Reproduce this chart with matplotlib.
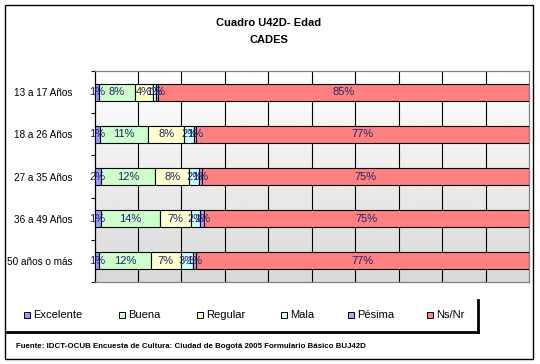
import numpy as np
import matplotlib
matplotlib.use('Agg')
import matplotlib.pyplot as plt
from matplotlib.patches import Rectangle
from matplotlib.lines import Line2D

plt.rcParams['font.family'] = ['Liberation Sans', 'DejaVu Sans']

categories = ['13 a 17 Años', '18 a 26 Años', '27 a 35 Años', '36 a 49 Años', '50 años o más']
series = ['Excelente', 'Buena', 'Regular', 'Mala', 'Pésima', 'Ns/Nr']
excelente = [1.0, 1.3, 1.6, 1.4, 1.1]
buena = [8.3, 11.1, 12.4, 13.6, 11.8]
regular = [4.1, 8.3, 7.8, 7.1, 7.0]
mala = [0.7, 2.1, 2.3, 2.1, 2.7]
pesima = [0.6, 0.6, 0.6, 1.1, 0.8]
nsnr = [85.3, 76.6, 75.3, 74.7, 76.6]
values = [excelente, buena, regular, mala, pesima, nsnr]
colors = ['#9999ff', '#ccffcc', '#ffffcc', '#ccffff', '#cc99ff', '#ff8080']

W, H = 540, 364
fig = plt.figure(figsize=(W / 100, H / 100), dpi=100)
ax = fig.add_axes([94.5 / W, 1 - 282 / H, (529 - 94.5) / W, (282 - 71) / H])

# gradient background of the plot area
grad = np.linspace(1.0, 0.85, 256).reshape(-1, 1)
ax.imshow(grad, extent=(0, 1, 0, 1), transform=ax.transAxes, aspect='auto',
          cmap='gray', vmin=0, vmax=1, zorder=0)

y = np.arange(len(categories))
left = np.zeros(len(categories))
for name, vals, col in zip(series, values, colors):
    vals = np.array(vals)
    ax.barh(y, vals, left=left, height=0.4, color=col, edgecolor='black',
            linewidth=0.8, zorder=3, label=name)
    for yi, l, v in zip(y, left, vals):
        ax.text(l + v / 2, yi, '%d%%' % int(round(v)), ha='center', va='center',
                fontsize=8, color='#222266', zorder=4)
    left = left + vals

ax.set_xlim(0, 100)
ax.set_ylim(len(categories) - 0.5, -0.5)
ax.set_xticks(np.arange(10, 100, 10))
ax.xaxis.grid(True, color='black', linewidth=0.8, zorder=1)
ax.tick_params(axis='x', length=0, labelbottom=False)
ax.set_yticks(np.arange(-0.5, len(categories), 1))
ax.set_yticklabels([])
ax.set_yticks(y, minor=True)
ax.set_yticklabels(categories, minor=True, fontsize=7.2, color='black')
ax.tick_params(axis='y', which='major', length=3, width=0.8, direction='out')
ax.tick_params(axis='y', which='minor', length=0, pad=16)
ax.set_axisbelow(True)
for s in ['top', 'right', 'bottom']:
    ax.spines[s].set_color('#808080')
    ax.spines[s].set_linewidth(0.9)
ax.spines['left'].set_color('black')
ax.spines['left'].set_linewidth(0.9)

fig.text(268.5 / W, 1 - 23 / H, 'Cuadro U42D- Edad', ha='center', va='center',
         fontsize=8, fontweight='bold')
fig.text(268.5 / W, 1 - 40 / H, 'CADES', ha='center', va='center',
         fontsize=8, fontweight='bold')

# legend drawn by hand to follow the spacing of the original
leg_x = [24, 119, 197, 281, 348, 427]
for name, col, lx in zip(series, colors, leg_x):
    fig.patches.append(Rectangle((lx / W, 1 - 318 / H), 6 / W, 6 / H, transform=fig.transFigure,
                                 facecolor=col, edgecolor='black', linewidth=0.7))
    fig.text((lx + 9) / W, 1 - 315 / H, name, ha='left', va='center', fontsize=8)

fig.lines.append(Line2D([7 / W, 478 / W], [1 - 331.5 / H, 1 - 331.5 / H],
                        transform=fig.transFigure, color='black', linewidth=2))
fig.lines.append(Line2D([477.5 / W, 477.5 / W], [1 - 300 / H, 1 - 332 / H],
                        transform=fig.transFigure, color='black', linewidth=2))

fig.text(16.5 / W, 1 - 346.5 / H,
         'Fuente: IDCT-OCUB Encuesta de Cultura: Ciudad de Bogotá 2005 Formulario Básico BUJ42D',
         ha='left', va='center', fontsize=5.7, fontweight='bold',
         family=['Liberation Sans Narrow', 'Liberation Sans', 'DejaVu Sans'])

fig.patches.append(Rectangle((5 / W, 1 - 359 / H), 527.5 / W, 354 / H, transform=fig.transFigure,
                             facecolor='none', edgecolor='black', linewidth=1))

fig.savefig('out.png', dpi=100)
